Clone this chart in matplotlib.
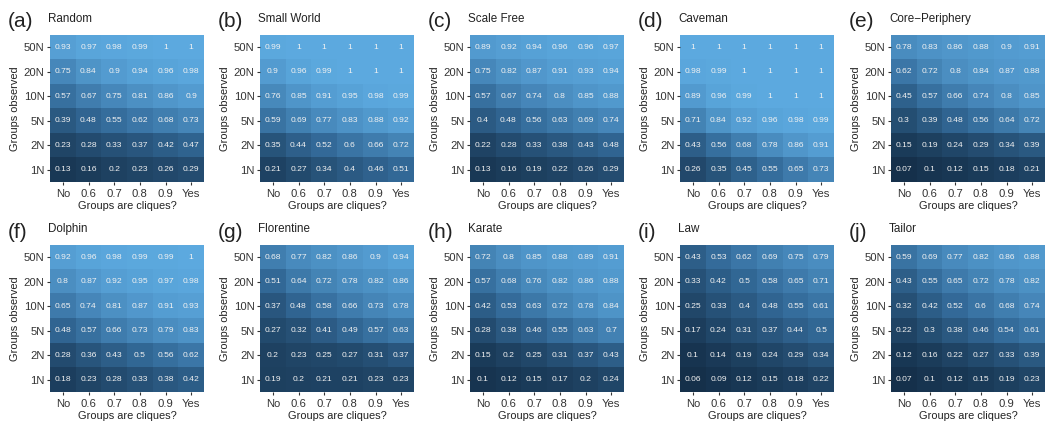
import numpy as np
import matplotlib.pyplot as plt
from matplotlib.colors import LinearSegmentedColormap

# axis categories
cliques = ['No', '0.6', '0.7', '0.8', '0.9', 'Yes']
observed = ['50N', '20N', '10N', '5N', '2N', '1N']   # top to bottom

tags = ['(a)', '(b)', '(c)', '(d)', '(e)', '(f)', '(g)', '(h)', '(i)', '(j)']
names = ['Random', 'Small World', 'Scale Free', 'Caveman', 'Core\u2212Periphery',
         'Dolphin', 'Florentine', 'Karate', 'Law', 'Tailor']

# values, rows 50N -> 1N, columns No -> Yes
random_net = [[0.93, 0.97, 0.98, 0.99, 1, 1],
              [0.75, 0.84, 0.9, 0.94, 0.96, 0.98],
              [0.57, 0.67, 0.75, 0.81, 0.86, 0.9],
              [0.39, 0.48, 0.55, 0.62, 0.68, 0.73],
              [0.23, 0.28, 0.33, 0.37, 0.42, 0.47],
              [0.13, 0.16, 0.2, 0.23, 0.26, 0.29]]
small_world = [[0.99, 1, 1, 1, 1, 1],
               [0.9, 0.96, 0.99, 1, 1, 1],
               [0.76, 0.85, 0.91, 0.95, 0.98, 0.99],
               [0.59, 0.69, 0.77, 0.83, 0.88, 0.92],
               [0.35, 0.44, 0.52, 0.6, 0.66, 0.72],
               [0.21, 0.27, 0.34, 0.4, 0.46, 0.51]]
scale_free = [[0.89, 0.92, 0.94, 0.96, 0.96, 0.97],
              [0.75, 0.82, 0.87, 0.91, 0.93, 0.94],
              [0.57, 0.67, 0.74, 0.8, 0.85, 0.88],
              [0.4, 0.48, 0.56, 0.63, 0.69, 0.74],
              [0.22, 0.28, 0.33, 0.38, 0.43, 0.48],
              [0.13, 0.16, 0.19, 0.22, 0.26, 0.29]]
caveman = [[1, 1, 1, 1, 1, 1],
           [0.98, 0.99, 1, 1, 1, 1],
           [0.89, 0.96, 0.99, 1, 1, 1],
           [0.71, 0.84, 0.92, 0.96, 0.98, 0.99],
           [0.43, 0.56, 0.68, 0.78, 0.86, 0.91],
           [0.26, 0.35, 0.45, 0.55, 0.65, 0.73]]
core_periphery = [[0.78, 0.83, 0.86, 0.88, 0.9, 0.91],
                  [0.62, 0.72, 0.8, 0.84, 0.87, 0.88],
                  [0.45, 0.57, 0.66, 0.74, 0.8, 0.85],
                  [0.3, 0.39, 0.48, 0.56, 0.64, 0.72],
                  [0.15, 0.19, 0.24, 0.29, 0.34, 0.39],
                  [0.07, 0.1, 0.12, 0.15, 0.18, 0.21]]
dolphin = [[0.92, 0.96, 0.98, 0.99, 0.99, 1],
           [0.8, 0.87, 0.92, 0.95, 0.97, 0.98],
           [0.65, 0.74, 0.81, 0.87, 0.91, 0.93],
           [0.48, 0.57, 0.66, 0.73, 0.79, 0.83],
           [0.28, 0.36, 0.43, 0.5, 0.56, 0.62],
           [0.18, 0.23, 0.28, 0.33, 0.38, 0.42]]
florentine = [[0.68, 0.77, 0.82, 0.86, 0.9, 0.94],
              [0.51, 0.64, 0.72, 0.78, 0.82, 0.86],
              [0.37, 0.48, 0.58, 0.66, 0.73, 0.78],
              [0.27, 0.32, 0.41, 0.49, 0.57, 0.63],
              [0.2, 0.23, 0.25, 0.27, 0.31, 0.37],
              [0.19, 0.2, 0.21, 0.21, 0.23, 0.23]]
karate = [[0.72, 0.8, 0.85, 0.88, 0.89, 0.91],
          [0.57, 0.68, 0.76, 0.82, 0.86, 0.88],
          [0.42, 0.53, 0.63, 0.72, 0.78, 0.84],
          [0.28, 0.38, 0.46, 0.55, 0.63, 0.7],
          [0.15, 0.2, 0.25, 0.31, 0.37, 0.43],
          [0.1, 0.12, 0.15, 0.17, 0.2, 0.24]]
law = [[0.43, 0.53, 0.62, 0.69, 0.75, 0.79],
       [0.33, 0.42, 0.5, 0.58, 0.65, 0.71],
       [0.25, 0.33, 0.4, 0.48, 0.55, 0.61],
       [0.17, 0.24, 0.31, 0.37, 0.44, 0.5],
       [0.1, 0.14, 0.19, 0.24, 0.29, 0.34],
       [0.06, 0.09, 0.12, 0.15, 0.18, 0.22]]
tailor = [[0.59, 0.69, 0.77, 0.82, 0.86, 0.88],
          [0.43, 0.55, 0.65, 0.72, 0.78, 0.82],
          [0.32, 0.42, 0.52, 0.6, 0.68, 0.74],
          [0.22, 0.3, 0.38, 0.46, 0.54, 0.61],
          [0.12, 0.16, 0.22, 0.27, 0.33, 0.39],
          [0.07, 0.1, 0.12, 0.15, 0.19, 0.23]]

networks = [random_net, small_world, scale_free, caveman, core_periphery,
            dolphin, florentine, karate, law, tailor]

plt.rcParams['font.family'] = ['Liberation Sans', 'DejaVu Sans']

# ggplot-like continuous fill, dark navy -> light blue
cmap = LinearSegmentedColormap.from_list('gg', ['#15304A', '#346B9A', '#5CA9DF'])
vmin = min(min(min(r) for r in n) for n in networks)
vmax = 1

W, H = 1046, 423
fig = plt.figure(figsize=(W / 100, H / 100), dpi=100)

lefts = [50, 260, 470, 680, 891]
tops = [35, 245]
pw, ph = 154, 147

for i, (vals, name, tag) in enumerate(zip(networks, names, tags)):
    left = lefts[i % 5]
    top = tops[i // 5]
    ax = fig.add_axes([left / W, 1 - (top + ph) / H, pw / W, ph / H])
    arr = np.array(vals)
    ax.imshow(arr, cmap=cmap, vmin=vmin, vmax=vmax, aspect='auto',
              interpolation='nearest')
    for r in range(arr.shape[0]):
        for c in range(arr.shape[1]):
            ax.text(c, r, f'{arr[r, c]:g}', ha='center', va='center',
                    color='#F2F2F2', fontsize=6.1)
    ax.set_xticks(range(len(cliques)))
    ax.set_xticklabels(cliques)
    ax.set_yticks(range(len(observed)))
    ax.set_yticklabels(observed)
    ax.tick_params(length=2.5, width=0.8, color='#333333', labelcolor='#333333',
                   labelsize=8.1, pad=1.5)
    ax.tick_params(axis='x', pad=2.5)
    for s in ax.spines.values():
        s.set_visible(False)
    ax.set_xlabel('Groups are cliques?', fontsize=7.9, labelpad=1.5, color='#222222')
    ax.set_ylabel('Groups observed', fontsize=7.9, labelpad=2.5, color='#222222')
    ax.text(-2 / pw, 1 + 16 / ph, name, transform=ax.transAxes,
            ha='left', va='center', fontsize=8.4, color='#222222')
    ax.text(-42 / pw, 1 + 13 / ph, tag, transform=ax.transAxes,
            ha='left', va='center', fontsize=15, color='#222222')

fig.savefig('out.png', dpi=100, facecolor='white')
